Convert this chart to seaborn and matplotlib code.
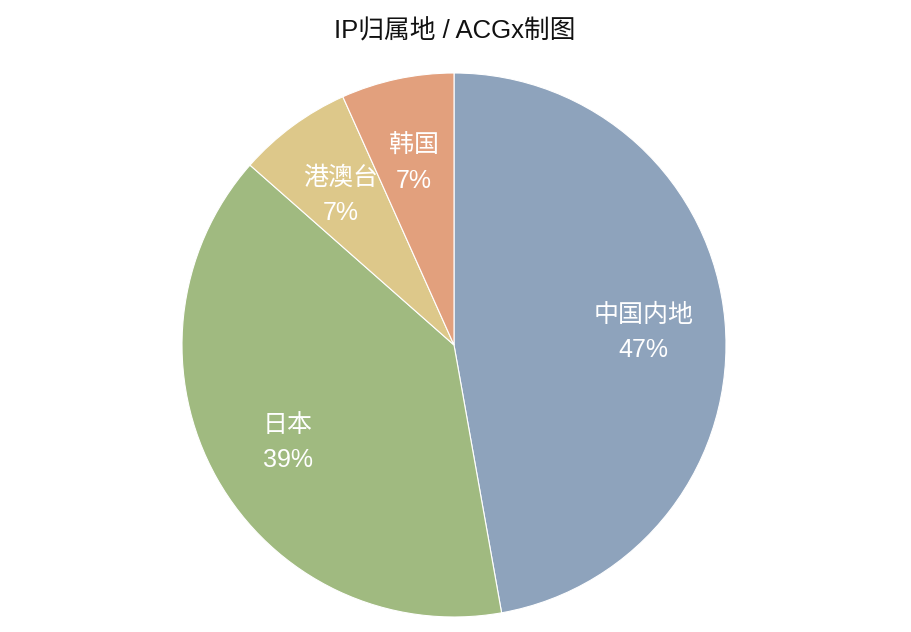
import matplotlib
matplotlib.use("Agg")
import matplotlib.pyplot as plt
import matplotlib.transforms as mtransforms
import seaborn as sns

categories = ["中国内地", "日本", "港澳台", "韩国"]
values = [47.2, 39.3, 6.8, 6.7]
colors = ["#8EA3BC", "#A0BA80", "#DDC88A", "#E2A07D"]

sns.set_theme(style="white")
plt.rcParams['font.family'] = ['Liberation Sans', 'Noto Sans CJK SC', 'DejaVu Sans']

W, H = 911, 632
fig = plt.figure(figsize=(W / 100, H / 100), dpi=100)
cx, cy, r = 454, 345, 272
ax = fig.add_axes([(cx - r) / W, (H - cy - r) / H, 2 * r / W, 2 * r / H])

wedges, texts, autotexts = ax.pie(
    values, labels=None, colors=colors, startangle=90, counterclock=False,
    autopct=lambda p: f"{p:.0f}%", pctdistance=0.7,
    wedgeprops=dict(linewidth=0.8, edgecolor="white"),
    textprops=dict(color="white", fontsize=18),
)
for cat, t in zip(categories, autotexts):
    t.set_text(f"{cat}\n{t.get_text()}")
    t.set_linespacing(1.6)
    t.set_ha("center")
    t.set_va("center")
    t.set_transform(mtransforms.offset_copy(t.get_transform(), fig=fig, x=0, y=-4, units="dots"))

ax.set_xlim(-1, 1)
ax.set_ylim(-1, 1)
ax.set_aspect("equal")
ax.axis("off")

fig.text(455 / W, 1 - 31 / H, "IP归属地 / ACGx制图", ha="center", va="center",
         fontsize=18.5, color="#111111")

fig.savefig("out.png", dpi=100, facecolor="white")
